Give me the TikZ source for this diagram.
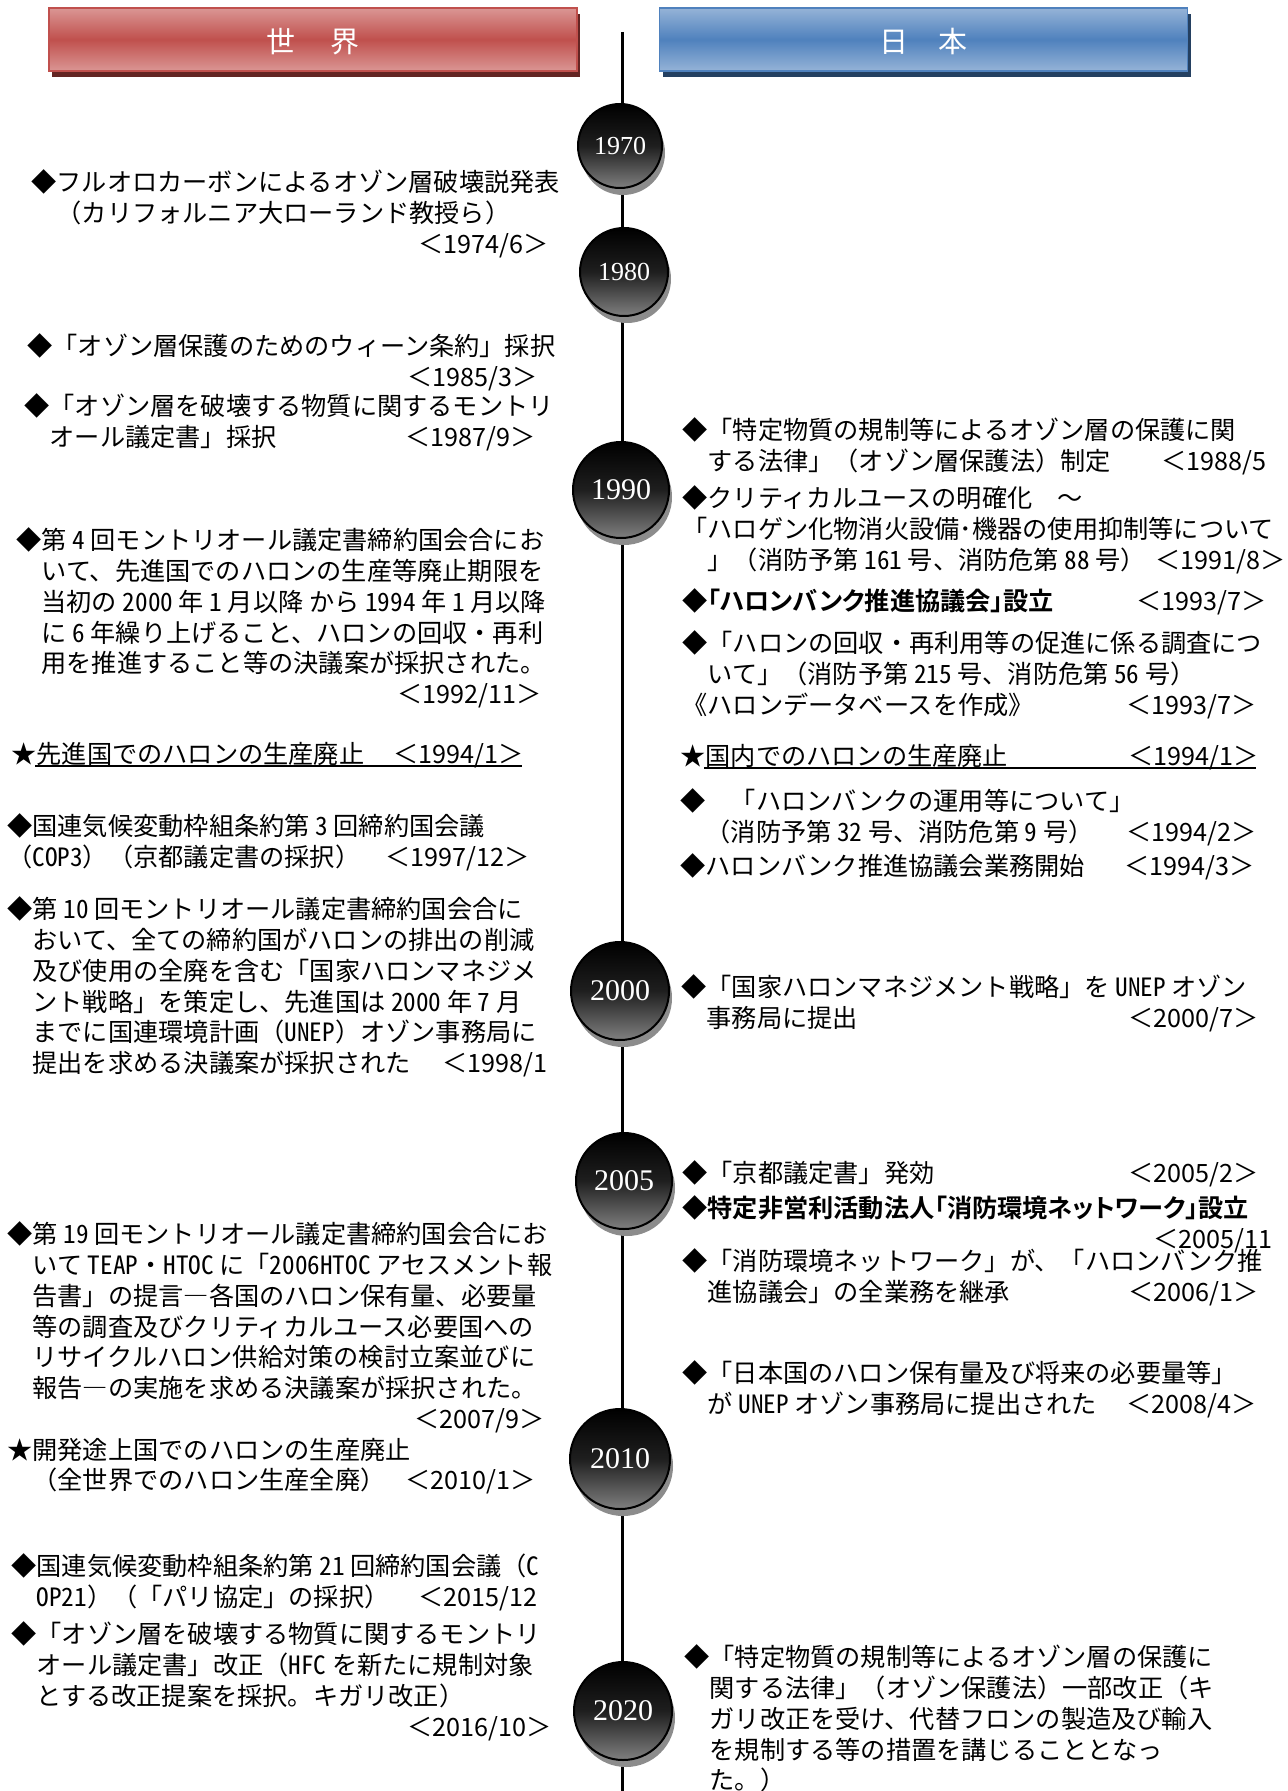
\documentclass[tikz,border=0pt]{standalone}
\usepackage{fontspec}
\setmainfont{Noto Sans CJK JP}
\newfontfamily\halfwidth{Noto Sans CJK JP}[RawFeature=+hwid]
\newfontfamily\yearfont{Liberation Serif}
\newfontfamily\gothicbold{Noto Sans CJK JP Bold}[RawFeature=+palt]
\usetikzlibrary{shadows}
\definecolor{worldred}{RGB}{192,80,77}
\definecolor{worldredlt}{RGB}{218,150,148}
\definecolor{worldreddk}{RGB}{99,37,35}
\definecolor{japanblue}{RGB}{79,129,189}
\definecolor{japanbluelt}{RGB}{149,179,215}
\definecolor{japanbluedk}{RGB}{36,64,97}
\newcommand\lpad[2]{\makebox[#1][l]{#2}}
\newcommand\hw[1]{{\halfwidth #1}}
\newcommand\bodyfont{\fontsize{12.6pt}{15.4pt}\selectfont}

\begin{document}
\begin{tikzpicture}[x=0.5pt, y=-0.5pt,
	header/.style={minimum width=264pt, minimum height=31.5pt, inner sep=0pt, line width=0.75pt,
		text=white, font=\fontsize{14.5pt}{14.5pt}\selectfont},
	yearball/.style={circle, draw=black, line width=1pt, inner sep=0pt, text=white,
		top color=black, bottom color=black!50, middle color=black!88,
		drop shadow={shadow xshift=1.5pt, shadow yshift=-3.5pt, fill=black!45, opacity=1}},
	entry/.style={anchor=north west, inner sep=0pt, align=left, font=\bodyfont},
	uline/.style={line width=1pt}]
	\useasboundingbox (0,0) rectangle (1287,1791);
	
	% header boxes
	\node[header, draw=worldred, top color=worldredlt, bottom color=worldredlt, middle color=worldred,
		drop shadow={shadow xshift=1.5pt, shadow yshift=-3pt, fill=worldreddk, opacity=1}]
		(world) at (313,39.5) {\raisebox{-6.5pt}[0pt][0pt]{世\hspace{17.5pt}界}};
	\node[header, draw=japanblue, top color=japanbluelt, bottom color=japanbluelt, middle color=japanblue,
		drop shadow={shadow xshift=1.5pt, shadow yshift=-3pt, fill=japanbluedk, opacity=1}]
		(japan) at (923.5,39.5) {\raisebox{-6.5pt}[0pt][0pt]{日\hspace{15.5pt}本}};
	
	% time axis
	\coordinate (axtop) at (622,32);
	\coordinate (axbot) at (622,1800);
	\draw[line width=1.5pt] (axtop) -- (axbot);
	\foreach \yr/\cx/\cy/\d/\fs in {1970/620/146/42/13, 1980/624/272/44/13, 1990/621/490/48/15,
		2000/620/991/49/15, 2005/624/1181/48/15, 2010/620/1459/50/15, 2020/623/1711/49/15}
		\node[yearball, minimum size=\d pt, font=\yearfont\fontsize{\fs pt}{\fs pt}\selectfont]
			(y\yr) at (\cx,\cy) {\yr};
	
	% world
	\node[entry] (w1974) at (31,169.5) {◆フルオロカーボンによるオゾン層破壊説発表\\
		　（カリフォルニア大ローランド教授ら）\\
		\lpad{193.5pt}{}＜1974/6＞};
	\node[entry] (w1985) at (27,333.5) {◆「オゾン層保護のためのウィーン条約」採択\\
		\lpad{190pt}{}＜1985/3＞};
	\node[entry] (w1987) at (24,393.5) {◆「オゾン層を破壊する物質に関するモントリ\\
		\lpad{190.5pt}{　オール議定書」採択}＜1987/9＞};
	\node[entry] (w1992) at (16,527.5) {◆第 \hw{4} 回モントリオール議定書締約国会合にお\\
		　いて、先進国でのハロンの生産等廃止期限を\\
		　当初の \hw{2000} 年 \hw{1} 月以降 から \hw{1994} 年 \hw{1} 月以降\\
		　に \hw{6} 年繰り上げること、ハロンの回収・再利\\
		　用を推進すること等の決議案が採択された。\\
		\lpad{190.5pt}{}＜1992/11＞};
	\node[entry] (w1994) at (11,741.5) {\lpad{191pt}{★先進国でのハロンの生産廃止}＜1994/1＞};
	\draw[uline] (35,766) -- (522,766);
	\node[entry] (w1997) at (7,813.5) {◆国連気候変動枠組条約第 \hw{3} 回締約国会議\\
		\lpad{189pt}{（\hw{COP3}）（京都議定書の採択）}＜1997/12＞};
	\node[entry] (w1998) at (7,896.5) {◆第 \hw{10} 回モントリオール議定書締約国会合に\\
		　おいて、全ての締約国がハロンの排出の削減\\
		　及び使用の全廃を含む「国家ハロンマネジメ\\
		　ント戦略」を策定し、先進国は \hw{2000} 年 \hw{7} 月\\
		　までに国連環境計画（\hw{UNEP}）オゾン事務局に\\
		\lpad{217.5pt}{　提出を求める決議案が採択された}＜1998/1};
	\node[entry] (w2007) at (7,1221.5) {◆第 \hw{19} 回モントリオール議定書締約国会合にお\\
		　いて \hw{TEAP}・\hw{HTOC} に「\hw{2006HTOC} アセスメント報\\
		　告書」の提言―各国のハロン保有量、必要量\\
		　等の調査及びクリティカルユース必要国への\\
		　リサイクルハロン供給対策の検討立案並びに\\
		　報告―の実施を求める決議案が採択された。\\
		\lpad{203.5pt}{}＜2007/9＞};
	\node[entry] (w2010) at (7,1437.5) {★開発途上国でのハロンの生産廃止\\
		\lpad{199pt}{　（全世界でのハロン生産全廃）}＜2010/1＞};
	\node[entry] (w2015) at (11,1553.5) {◆国連気候変動枠組条約第 \hw{21} 回締約国会議（\hw{C}\\
		\lpad{203.5pt}{　\hw{OP21}）（「パリ協定」の採択）}＜2015/12};
	\node[entry] (w2016) at (11,1621.5) {◆「オゾン層を破壊する物質に関するモントリ\\
		　オール議定書」改正（\hw{HFC} を新たに規制対象\\
		　とする改正提案を採択。キガリ改正）\\
		\lpad{198pt}{}＜2016/10＞};
	
	% japan
	\node[entry] (j1988) at (682,417.5) {◆「特定物質の規制等によるオゾン層の保護に関\\
		\lpad{239.5pt}{　する法律」（オゾン層保護法）制定}＜1988/5};
	\node[entry] (j1991) at (682,485.5) {◆クリティカルユースの明確化　～\\
		「ハロゲン化物消火設備･機器の使用抑制等について\\
		\lpad{236.5pt}{　」（消防予第 \hw{161} 号、消防危第 \hw{88} 号）}＜1991/8＞};
	\node[entry] (j1993a) at (682,588.5) {\lpad{227pt}{\gothicbold ◆「ハロンバンク推進協議会」設立}＜1993/7＞};
	\node[entry] (j1993b) at (682,630.5) {◆「ハロンの回収・再利用等の促進に係る調査につ\\
		　いて」（消防予第 \hw{215} 号、消防危第 \hw{56} 号）\\
		\lpad{222pt}{《ハロンデータベースを作成》}＜1993/7＞};
	\node[entry] (j1994a) at (680,743.5) {\lpad{224pt}{★国内でのハロンの生産廃止}＜1994/1＞};
	\draw[uline] (704,768) -- (1256,768);
	\node[entry] (j1994b) at (680,788.5) {◆　「ハロンバンクの運用等について」\\
		\lpad{223pt}{　（消防予第 \hw{32} 号、消防危第 \hw{9} 号）}＜1994/2＞};
	\node[entry] (j1994c) at (680,853.5) {\lpad{222pt}{◆ハロンバンク推進協議会業務開始}＜1994/3＞};
	\node[entry] (j2000) at (681,974.5) {◆「国家ハロンマネジメント戦略」を \hw{UNEP} オゾン\\
		\lpad{223.5pt}{　事務局に提出}＜2000/7＞};
	\node[entry] (j2005a) at (682,1160.5) {\lpad{223pt}{◆「京都議定書」発効}＜2005/2＞};
	\node[entry] (j2005b) at (682,1195.5) {{\gothicbold ◆特定非営利活動法人「消防環境ネットワーク」設立}\\
		\lpad{235.5pt}{}＜2005/11};
	\node[entry] (j2006) at (682,1248.5) {◆「消防環境ネットワーク」が、「ハロンバンク推\\
		\lpad{223pt}{　進協議会」の全業務を継承}＜2006/1＞};
	\node[entry] (j2008) at (682,1360.5) {◆「日本国のハロン保有量及び将来の必要量等」\\
		\lpad{222pt}{　が \hw{UNEP} オゾン事務局に提出された}＜2008/4＞};
	\node[entry] (j2020) at (684,1644.5) {◆「特定物質の規制等によるオゾン層の保護に\\
		　関する法律」（オゾン保護法）一部改正（キ\\
		　ガリ改正を受け、代替フロンの製造及び輸入\\
		　を規制する等の措置を講じることとなっ\\
		　た。）};
\end{tikzpicture}
\end{document}
